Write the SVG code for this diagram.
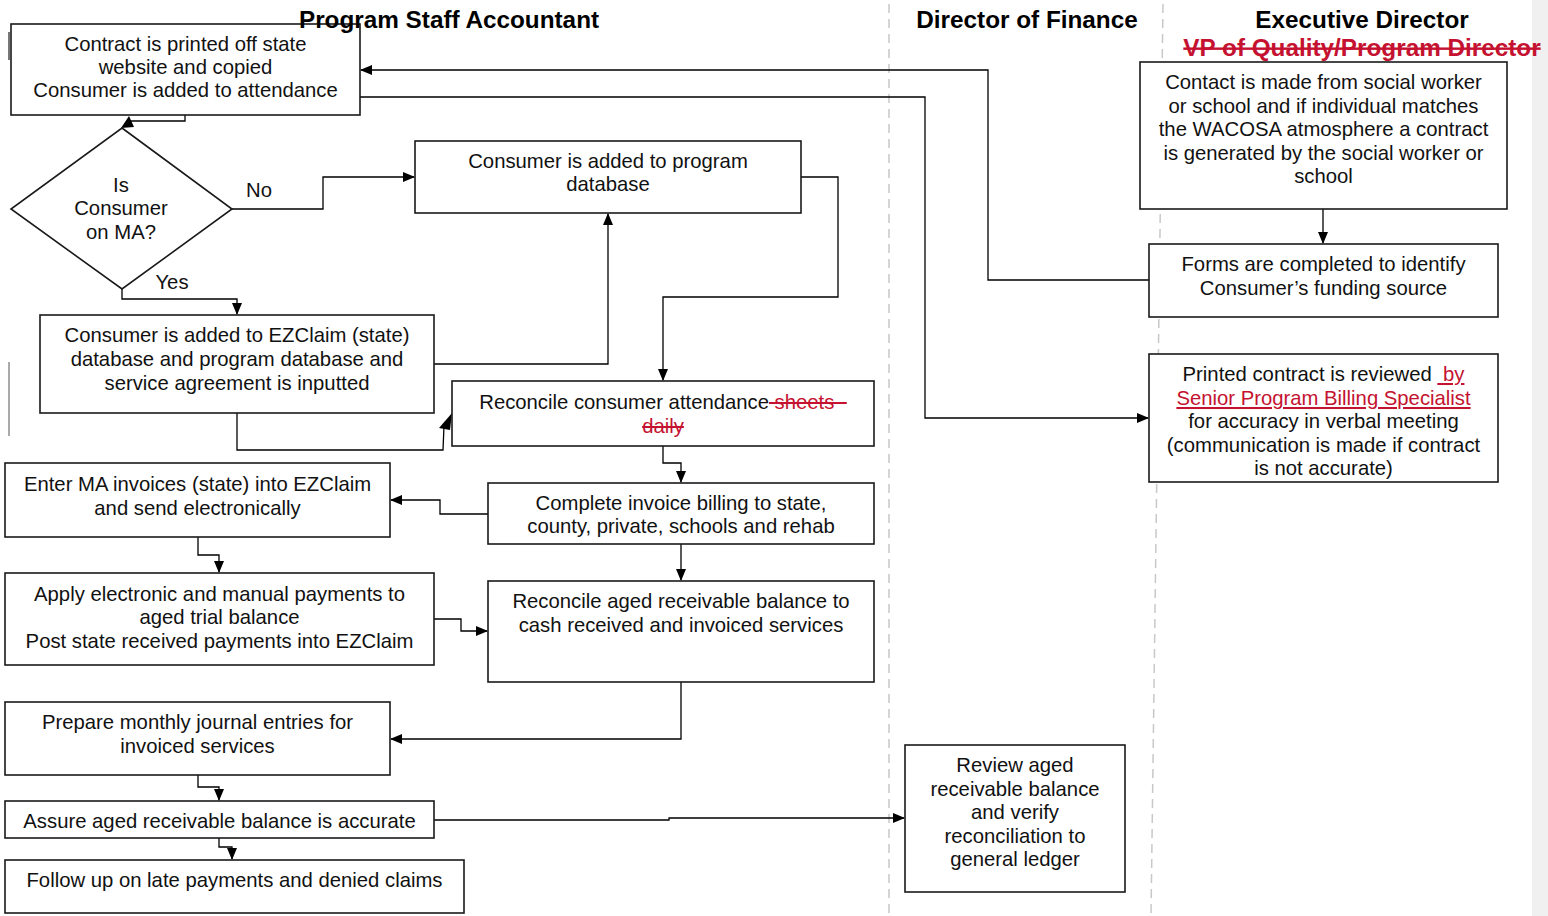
<svg xmlns="http://www.w3.org/2000/svg" width="1548" height="916" viewBox="0 0 1548 916">
<style>
.box{fill:#fff;stroke:#1a1a1a;stroke-width:1.6}
.t{font-family:"Liberation Sans",Arial,sans-serif;font-size:20.3px;fill:#111;text-anchor:middle}
.h{font-family:"Liberation Sans",Arial,sans-serif;font-size:24.3px;font-weight:bold;fill:#000;text-anchor:middle}
.red{fill:#c41230}
.c{fill:none;stroke:#000;stroke-width:1.3}
.lane{stroke:#c8c8c8;stroke-width:1.5;stroke-dasharray:9,6;fill:none}
</style>
<defs>
<marker id="ah" markerWidth="12" markerHeight="10" refX="11" refY="5" orient="auto" markerUnits="userSpaceOnUse">
<path d="M0,0 L12,5 L0,10 Z" fill="#000"/>
</marker>
</defs>
<rect x="0" y="0" width="1548" height="916" fill="#fff"/>
<rect x="1532" y="0" width="16" height="916" fill="#f0f0f0"/>
<g id="lanes">
<line class="lane" x1="889" y1="4" x2="889" y2="916"/>
<line class="lane" x1="1163" y1="4" x2="1151" y2="916"/>
<line x1="9" y1="32" x2="9" y2="60" stroke="#777" stroke-width="2"/>
<line x1="9" y1="362" x2="9" y2="436" stroke="#555" stroke-width="1"/>
</g>
<g id="connectors">
<path class="c" d="M185,115 V121 H130"/>
<polygon points="121,128 129,116 134,127" fill="#000"/>
<path class="c" d="M232,209 H323 V177 H414" marker-end="url(#ah)"/>
<path class="c" d="M122,289 V299 H237 V314" marker-end="url(#ah)"/>
<path class="c" d="M434,364 H608 V214" marker-end="url(#ah)"/>
<path class="c" d="M801,177 H838 V297 H663 V380" marker-end="url(#ah)"/>
<path class="c" d="M237,413 V450 H443 L444,426"/>
<polygon points="439,428 450,430 452,413" fill="#000"/>
<path class="c" d="M663,446 V463 H681 V482" marker-end="url(#ah)"/>
<path class="c" d="M488,514 H440 V500 H391" marker-end="url(#ah)"/>
<path class="c" d="M198,537 V555 H219 V572" marker-end="url(#ah)"/>
<path class="c" d="M434,619 H461 V631 H487" marker-end="url(#ah)"/>
<path class="c" d="M681,544 V580" marker-end="url(#ah)"/>
<path class="c" d="M681,682 V739 H391" marker-end="url(#ah)"/>
<path class="c" d="M198,775 V787 H219 V800" marker-end="url(#ah)"/>
<path class="c" d="M434,820 H669 V818 H904" marker-end="url(#ah)"/>
<path class="c" d="M219,838 V847 H232 V859" marker-end="url(#ah)"/>
<path class="c" d="M1323,209 V243" marker-end="url(#ah)"/>
<path class="c" d="M1149,280 H988 V70 H361" marker-end="url(#ah)"/>
<path class="c" d="M360,97 H925 V418 H1148" marker-end="url(#ah)"/>
</g>
<g id="n1">
<rect class="box" x="11" y="24" width="349" height="91"/>
<text class="t" x="185.5" y="51">Contract is printed off state</text>
<text class="t" x="185.5" y="74">website and copied</text>
<text class="t" x="185.5" y="97">Consumer is added to attendance</text>
</g>
<g id="decision">
<polygon class="box" points="122,128 232,209 122,289 11,209"/>
<text class="t" x="121" y="192">Is</text>
<text class="t" x="121" y="215">Consumer</text>
<text class="t" x="121" y="239">on MA?</text>
<text class="t" x="259" y="197">No</text>
<text class="t" x="172" y="289">Yes</text>
</g>
<g id="n2">
<rect class="box" x="415" y="141" width="386" height="72"/>
<text class="t" x="608" y="168">Consumer is added to program</text>
<text class="t" x="608" y="191">database</text>
</g>
<g id="n3">
<rect class="box" x="40" y="315" width="394" height="98"/>
<text class="t" x="237" y="342">Consumer is added to EZClaim (state)</text>
<text class="t" x="237" y="366">database and program database and</text>
<text class="t" x="237" y="390">service agreement is inputted</text>
</g>
<g id="n4">
<rect class="box" x="452" y="381" width="422" height="65"/>
<text class="t" x="663" y="409">Reconcile consumer attendance<tspan class="red" text-decoration="line-through"> sheets - </tspan></text>
<text class="t red" x="663" y="433" text-decoration="line-through">daily</text>
</g>
<g id="n5">
<rect class="box" x="488" y="483" width="386" height="61"/>
<text class="t" x="681" y="510">Complete invoice billing to state,</text>
<text class="t" x="681" y="533">county, private, schools and rehab</text>
</g>
<g id="n6">
<rect class="box" x="5" y="463" width="385" height="74"/>
<text class="t" x="197.5" y="491">Enter MA invoices (state) into EZClaim</text>
<text class="t" x="197.5" y="515">and send electronically</text>
</g>
<g id="n7">
<rect class="box" x="5" y="573" width="429" height="92"/>
<text class="t" x="219.5" y="601">Apply electronic and manual payments to</text>
<text class="t" x="219.5" y="624">aged trial balance</text>
<text class="t" x="219.5" y="648">Post state received payments into EZClaim</text>
</g>
<g id="n8">
<rect class="box" x="488" y="581" width="386" height="101"/>
<text class="t" x="681" y="608">Reconcile aged receivable balance to</text>
<text class="t" x="681" y="632">cash received and invoiced services</text>
</g>
<g id="n9">
<rect class="box" x="5" y="702" width="385" height="73"/>
<text class="t" x="197.5" y="729">Prepare monthly journal entries for</text>
<text class="t" x="197.5" y="753">invoiced services</text>
</g>
<g id="n10">
<rect class="box" x="5" y="801" width="429" height="37"/>
<text class="t" x="219.5" y="828">Assure aged receivable balance is accurate</text>
</g>
<g id="n11">
<rect class="box" x="5" y="860" width="459" height="53"/>
<text class="t" x="234.5" y="887">Follow up on late payments and denied claims</text>
</g>
<g id="n12">
<rect class="box" x="905" y="745" width="220" height="147"/>
<text class="t" x="1015" y="772">Review aged</text>
<text class="t" x="1015" y="796">receivable balance</text>
<text class="t" x="1015" y="819">and verify</text>
<text class="t" x="1015" y="843">reconciliation to</text>
<text class="t" x="1015" y="866">general ledger</text>
</g>
<g id="n13">
<rect class="box" x="1140" y="62" width="367" height="147"/>
<text class="t" x="1323.5" y="89">Contact is made from social worker</text>
<text class="t" x="1323.5" y="113">or school and if individual matches</text>
<text class="t" x="1323.5" y="136">the WACOSA atmosphere a contract</text>
<text class="t" x="1323.5" y="160">is generated by the social worker or</text>
<text class="t" x="1323.5" y="183">school</text>
</g>
<g id="n14">
<rect class="box" x="1149" y="244" width="349" height="73"/>
<text class="t" x="1323.5" y="271">Forms are completed to identify</text>
<text class="t" x="1323.5" y="295">Consumer’s funding source</text>
</g>
<g id="n15">
<rect class="box" x="1149" y="354" width="349" height="128"/>
<text class="t" x="1323.5" y="381">Printed contract is reviewed <tspan class="red" text-decoration="underline">&#160;by</tspan></text>
<text class="t red" x="1323.5" y="405" text-decoration="underline">Senior Program Billing Specialist</text>
<text class="t" x="1323.5" y="428">for accuracy in verbal meeting</text>
<text class="t" x="1323.5" y="452">(communication is made if contract</text>
<text class="t" x="1323.5" y="475">is not accurate)</text>
</g>
<g id="headers">
<text class="h" x="449" y="28">Program Staff Accountant</text>
<text class="h" x="1027" y="28">Director of Finance</text>
<text class="h" x="1362" y="28">Executive Director</text>
<text class="h red" x="1362" y="56" text-decoration="line-through">VP of Quality/Program Director</text>
</g>
</svg>
